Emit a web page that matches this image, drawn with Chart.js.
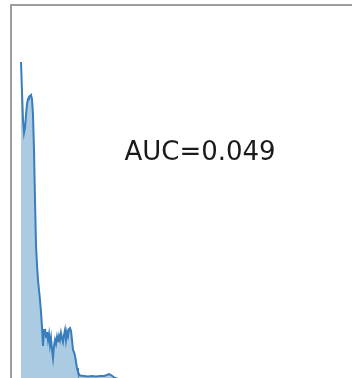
<!DOCTYPE html>
<html>
<head>
<meta charset="utf-8">
<script src="https://cdn.jsdelivr.net/npm/chart.js@4/dist/chart.umd.min.js"></script>
<style>
  html, body { margin: 0; padding: 0; background: #fff; overflow: hidden; }
  #wrap { width: 352px; height: 378px; position: relative; }
</style>
</head>
<body>
<div id="wrap"><canvas id="c"></canvas></div>
<script>
// Score values (x) and estimated density (y) of the curve
const scores = [
  0.000, 0.005, 0.010, 0.015, 0.020, 0.025, 0.030, 0.035, 0.040, 0.045,
  0.050, 0.055, 0.060, 0.065, 0.070, 0.075, 0.080, 0.085, 0.090, 0.095,
  0.100, 0.105, 0.110, 0.115, 0.120, 0.125, 0.130, 0.135, 0.140, 0.145,
  0.150, 0.155, 0.160, 0.165, 0.170, 0.175, 0.180, 0.185, 0.190, 0.195,
  0.200, 0.205, 0.210, 0.215, 0.220, 0.225, 0.230, 0.235, 0.240, 0.245,
  0.250, 0.255, 0.260, 0.265, 0.270, 0.275, 0.280, 0.285, 0.290, 0.295,
  0.315, 0.335, 0.355, 0.375, 0.395, 0.415, 0.430, 0.440, 0.450, 0.460,
  0.470, 0.485
];
const density = [
  10.062, 9.110, 8.221, 7.808, 7.967, 8.379, 8.729, 8.887, 8.951, 8.983,
  9.014, 8.887, 8.379, 7.268, 5.681, 4.252, 3.617, 3.141, 2.824, 2.506,
  2.125, 1.649, 1.046, 1.554, 1.586, 1.332, 1.490, 1.237, 1.427, 1.078,
  1.300, 0.919, 0.665, 1.046, 1.237, 1.110, 1.332, 1.173, 1.363, 1.237,
  1.459, 1.300, 1.173, 1.395, 1.554, 1.237, 1.490, 1.363, 1.586, 1.617,
  1.522, 1.237, 0.919, 0.856, 0.729, 0.538, 0.348, 0.221, 0.157, 0.110,
  0.094, 0.078, 0.094, 0.078, 0.094, 0.094, 0.125, 0.157, 0.125, 0.078,
  0.030, 0.000
];
const aucLabel = 'AUC=0.049';

const points = scores.map((s, i) => ({ x: s, y: density[i] }));

// Frame around the plotting area (left and top edges are in view)
const framePlugin = {
  id: 'frame',
  afterDatasetsDraw(chart) {
    const { ctx, chartArea: a } = chart;
    ctx.save();
    ctx.strokeStyle = '#858585';
    ctx.lineWidth = 1.6;
    ctx.strokeRect(a.left, a.top, a.right - a.left + 10, a.bottom - a.top + 10);
    ctx.restore();
  }
};

// Annotation text placed in the upper middle of the axes
const labelPlugin = {
  id: 'aucLabel',
  afterDraw(chart) {
    const { ctx, chartArea: a } = chart;
    ctx.save();
    ctx.fillStyle = '#1a1a1a';
    ctx.font = '26px "DejaVu Sans"';
    ctx.textAlign = 'center';
    ctx.textBaseline = 'middle';
    ctx.fillText(aucLabel, a.left + 189, a.top + 148);
    ctx.restore();
  }
};

new Chart(document.getElementById('c'), {
  type: 'line',
  data: {
    datasets: [{
      data: points,
      borderColor: '#3a7dbb',
      borderWidth: 2,
      backgroundColor: 'rgba(31,119,180,0.38)',
      fill: 'origin',
      pointRadius: 0,
      tension: 0
    }]
  },
  options: {
    responsive: true,
    maintainAspectRatio: false,
    animation: false,
    layout: { padding: { left: 11, top: 5, right: 0, bottom: 0 } },
    plugins: { legend: { display: false }, tooltip: { enabled: false } },
    scales: {
      x: { type: 'linear', min: -0.05, max: 1.655, display: false },
      y: { min: 0.03, max: 11.87, display: false }
    }
  },
  plugins: [framePlugin, labelPlugin]
});
</script>
</body>
</html>
